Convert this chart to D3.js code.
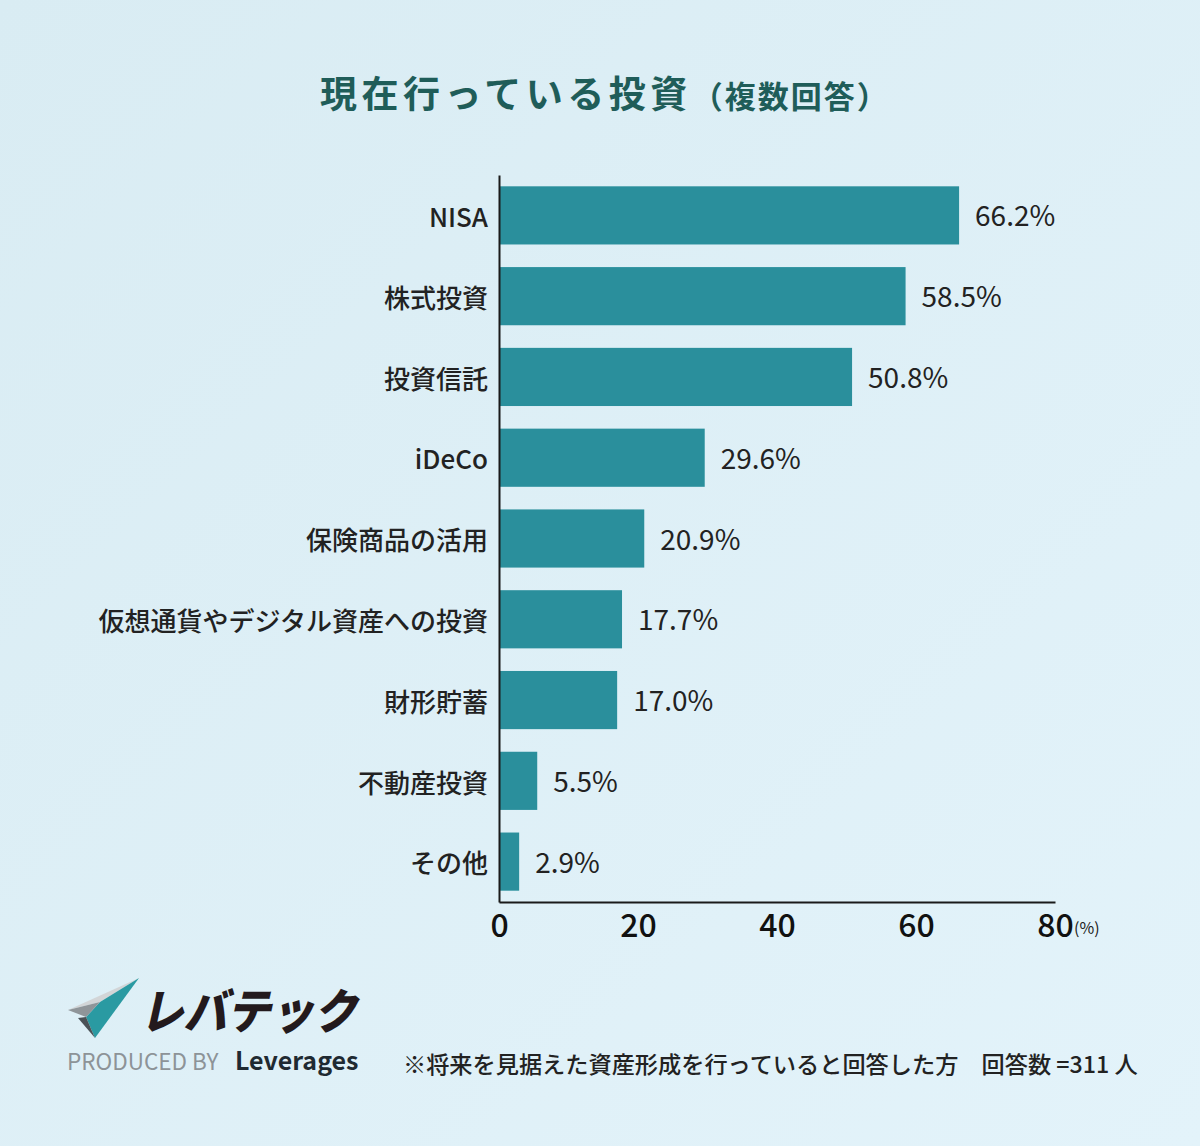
<!DOCTYPE html>
<html><head><meta charset="utf-8">
<script src="https://cdn.jsdelivr.net/npm/d3@7"></script>
<style>
html,body{margin:0;padding:0;}
body{width:1200px;height:1146px;overflow:hidden;background:#ddeff6;}
text{font-family:"Noto Sans CJK JP","Noto Sans",sans-serif;}
</style></head>
<body>
<svg id="c" width="1200" height="1146"></svg>
<script>
const categories = ["NISA","株式投資","投資信託","iDeCo","保険商品の活用","仮想通貨やデジタル資産への投資","財形貯蓄","不動産投資","その他"];
const values = [66.2,58.5,50.8,29.6,20.9,17.7,17.0,5.5,2.9];
const tickValues = [0,20,40,60,80];
const titleMain = "現在行っている投資";
const titleSub = "（複数回答）";
const footnote = "※将来を見据えた資産形成を行っていると回答した方　回答数 =311 人";

const svg = d3.select("#c");
const defs = svg.append("defs");
const g0 = defs.append("linearGradient").attr("id","bg").attr("x1","0").attr("y1","0").attr("x2","1").attr("y2","1");
g0.append("stop").attr("offset","0").attr("stop-color","#d9ecf3");
g0.append("stop").attr("offset","1").attr("stop-color","#e3f3fa");
svg.append("rect").attr("width",1200).attr("height",1146).attr("fill","url(#bg)");

// title
const t = svg.append("text").attr("x",320).attr("y",108).attr("fill","#1f5d59").attr("font-weight","700");
t.append("tspan").attr("font-size",37).attr("letter-spacing",4.5).text(titleMain);
t.append("tspan").attr("font-size",31).attr("letter-spacing",2).text(titleSub);

const x = d3.scaleLinear().domain([0,80]).range([499,1055]);
const y = d3.scaleBand().domain(categories).range([175,902]).paddingInner(0.28).paddingOuter(0.14);

const data = categories.map((c,i)=>({c, v: values[i]}));

svg.append("g").selectAll("rect").data(data).join("rect")
  .attr("x", x(0)).attr("y", d=>y(d.c)).attr("width", d=>x(d.v)-x(0)).attr("height", y.bandwidth())
  .attr("fill","#2a8f9c");

svg.append("g").selectAll("text").data(data).join("text")
  .attr("x", d=>x(d.v)+16).attr("y", d=>y(d.c)+y.bandwidth()/2+1).attr("dy","0.36em")
  .attr("font-size",28).attr("fill","#222").attr("font-weight","400")
  .text(d=>d.v.toFixed(1)+"%");

// y axis
const yAxis = svg.append("g").attr("transform",`translate(${x(0)},0)`)
  .call(d3.axisLeft(y).tickSize(0).tickPadding(11));
yAxis.select(".domain").attr("stroke","#1a1a1a").attr("stroke-width",2);
yAxis.selectAll("text").attr("font-size",26).attr("fill","#222").attr("font-weight","500")
  .attr("dy","0.45em")
  .attr("font-family",'"Noto Sans CJK JP","Noto Sans",sans-serif');

// x axis
const xAxis = svg.append("g").attr("transform","translate(0,902)")
  .call(d3.axisBottom(x).tickValues(tickValues).tickSize(0).tickPadding(12).tickFormat(d3.format("d")));
xAxis.select(".domain").attr("stroke","#1a1a1a").attr("stroke-width",2);
xAxis.selectAll("text").attr("font-size",32).attr("fill","#111").attr("font-weight","500")
  .attr("font-family",'"Noto Sans CJK JP","Noto Sans",sans-serif');
svg.append("text").attr("x",x(80)+19).attr("y",934).attr("font-size",16).attr("fill","#222").text("(%)");

// footnote
svg.append("text").attr("x",403).attr("y",1073).attr("font-size",23.2).attr("fill","#222").attr("font-weight","500").text(footnote);

// logo
const lg = svg.append("g");
lg.append("polygon").attr("points","68,1010 139,978 100,1002").attr("fill","#d2d5d7");
lg.append("polygon").attr("points","100,1002 139,978 95,1038 86,1017").attr("fill","#2a9aa2");
lg.append("polygon").attr("points","68,1010 100,1002 86,1017").attr("fill","#8f9599");
lg.append("polygon").attr("points","86,1017 95,1038 78,1018").attr("fill","#4b5257");
lg.append("text").attr("x",140).attr("y",1029).attr("font-size",48).attr("font-weight","900").attr("fill","#231a1d")
  .attr("textLength",217).attr("lengthAdjust","spacingAndGlyphs").attr("font-style","italic").text("レバテック");
svg.append("text").attr("x",67).attr("y",1070).attr("font-size",22.5).attr("fill","#8d9397")
  .attr("font-family","Roboto, 'Noto Sans', sans-serif").text("PRODUCED BY");
svg.append("text").attr("x",235).attr("y",1070).attr("font-size",25).attr("font-weight","700").attr("fill","#1f2a32")
  .attr("font-family","'Noto Sans', sans-serif").text("Leverages");
</script>
</body></html>
